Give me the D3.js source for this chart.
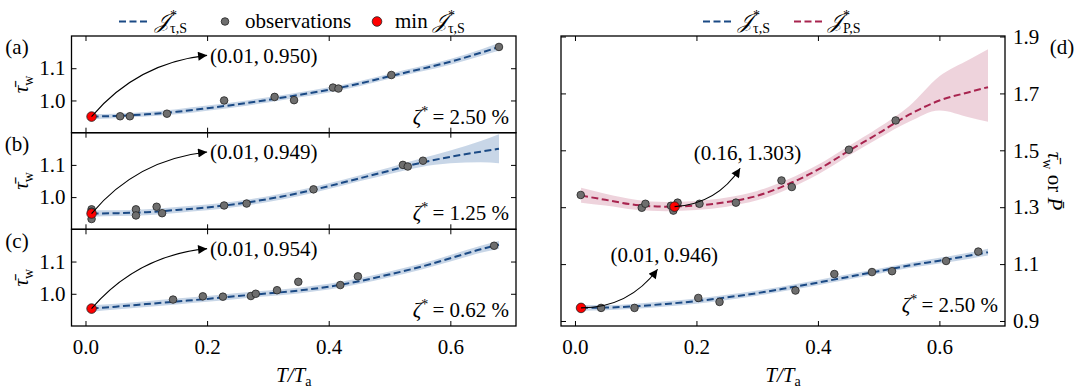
<!DOCTYPE html>
<meta charset="utf-8">
<style>
  body { margin: 0; background: #fff; }
  svg { font-family: "Liberation Serif", "DejaVu Serif", serif; }
</style>
<svg width="1079" height="389"></svg>
<script src="https://d3js.org/d3.v7.min.js"></script>
<script>

// ---- data ----
var gridX = [0.01, 0.05, 0.1, 0.15, 0.2, 0.25, 0.3, 0.35, 0.4, 0.45, 0.5, 0.55, 0.6, 0.65, 0.68];
var xTicks = [0.0, 0.2, 0.4, 0.6];
var leftYTicks = [1.0, 1.1];
var rightYTicks = [0.9, 1.1, 1.3, 1.5, 1.7, 1.9];

// (a) zeta* = 2.50 %
var aFit = [0.950, 0.952, 0.957, 0.965, 0.976, 0.988, 1.002, 1.017, 1.033, 1.052, 1.075, 1.097, 1.120, 1.148, 1.166];
var aLo  = [0.942, 0.945, 0.950, 0.957, 0.968, 0.980, 0.994, 1.009, 1.025, 1.044, 1.067, 1.089, 1.111, 1.138, 1.154];
var aHi  = [0.958, 0.959, 0.964, 0.973, 0.984, 0.996, 1.010, 1.025, 1.041, 1.060, 1.083, 1.105, 1.129, 1.158, 1.178];
var aObsX = [0.057, 0.073, 0.134, 0.228, 0.311, 0.343, 0.407, 0.416, 0.503, 0.680];
var aObsY = [0.951, 0.951, 0.959, 1.000, 1.011, 1.001, 1.040, 1.037, 1.079, 1.166];
var aMin = [0.01, 0.950];

// (b) zeta* = 1.25 %
var bFit = [0.949, 0.950, 0.953, 0.960, 0.968, 0.979, 0.994, 1.012, 1.034, 1.058, 1.082, 1.106, 1.125, 1.141, 1.150];
var bLo  = [0.939, 0.941, 0.944, 0.951, 0.959, 0.970, 0.985, 1.003, 1.025, 1.049, 1.072, 1.093, 1.105, 1.108, 1.105];
var bHi  = [0.959, 0.959, 0.962, 0.969, 0.977, 0.988, 1.003, 1.021, 1.043, 1.067, 1.092, 1.119, 1.145, 1.174, 1.195];
var bObsX = [0.01, 0.01, 0.01, 0.083, 0.083, 0.117, 0.126, 0.228, 0.265, 0.375, 0.522, 0.530, 0.555];
var bObsY = [0.962, 0.955, 0.932, 0.962, 0.943, 0.970, 0.950, 0.974, 0.980, 1.024, 1.100, 1.095, 1.113];
var bMin = [0.01, 0.949];

// (c) zeta* = 0.62 %
var cFit = [0.954, 0.960, 0.968, 0.976, 0.984, 0.993, 1.001, 1.010, 1.022, 1.039, 1.060, 1.083, 1.110, 1.138, 1.152];
var cLo  = [0.944, 0.951, 0.959, 0.967, 0.975, 0.984, 0.992, 1.001, 1.013, 1.030, 1.051, 1.074, 1.100, 1.127, 1.140];
var cHi  = [0.964, 0.969, 0.977, 0.985, 0.993, 1.002, 1.010, 1.019, 1.031, 1.048, 1.069, 1.092, 1.120, 1.149, 1.164];
var cObsX = [0.01, 0.144, 0.193, 0.226, 0.272, 0.280, 0.315, 0.350, 0.419, 0.448, 0.672];
var cObsY = [0.954, 0.982, 0.992, 0.991, 0.993, 1.000, 1.011, 1.037, 1.027, 1.054, 1.149];
var cMin = [0.01, 0.954];

// (d) tau and P surrogates
var dTauFit = [0.946, 0.947, 0.952, 0.960, 0.970, 0.983, 0.998, 1.016, 1.035, 1.055, 1.075, 1.095, 1.112, 1.130, 1.142];
var dTauLo  = [0.936, 0.938, 0.943, 0.951, 0.961, 0.974, 0.989, 1.007, 1.026, 1.046, 1.066, 1.086, 1.102, 1.119, 1.130];
var dTauHi  = [0.956, 0.956, 0.961, 0.969, 0.979, 0.992, 1.007, 1.025, 1.044, 1.064, 1.084, 1.104, 1.122, 1.141, 1.154];
var dTauObsX = [0.01, 0.043, 0.098, 0.203, 0.238, 0.363, 0.427, 0.489, 0.522, 0.611, 0.664];
var dTauObsY = [0.946, 0.946, 0.946, 0.981, 0.967, 1.007, 1.065, 1.072, 1.075, 1.111, 1.144];
var dTauMin = [0.01, 0.946];

var dPFit = [1.341, 1.326, 1.308, 1.302, 1.306, 1.318, 1.340, 1.380, 1.432, 1.497, 1.560, 1.625, 1.675, 1.705, 1.722];
var dPLo  = [1.316, 1.306, 1.291, 1.286, 1.290, 1.302, 1.324, 1.363, 1.415, 1.480, 1.542, 1.600, 1.640, 1.615, 1.600];
var dPHi  = [1.368, 1.347, 1.326, 1.318, 1.322, 1.334, 1.357, 1.397, 1.449, 1.514, 1.580, 1.655, 1.760, 1.820, 1.855];
var dPObsX = [0.0095, 0.110, 0.116, 0.158, 0.162, 0.169, 0.205, 0.265, 0.340, 0.357, 0.451, 0.528];
var dPObsY = [1.343, 1.298, 1.312, 1.305, 1.288, 1.316, 1.312, 1.316, 1.394, 1.371, 1.502, 1.605];
var dPMin = [0.164, 1.302];

// ---- styling ----
var blue = "#1b4a85", blueBand = "#4a78b0",
    red = "#a8244f", redBand = "#a8244f",
    obsFill = "#6e6e6e", minFill = "#ff0000";
var TAU = "\u03C4\u0304", PBAR = "P\u0304";

var svg = d3.select("svg");

var defs = svg.append("defs");
defs.append("marker")
    .attr("id", "head")
    .attr("viewBox", "0 0 10 10")
    .attr("refX", 10).attr("refY", 5)
    .attr("markerUnits", "userSpaceOnUse")
    .attr("markerWidth", 11).attr("markerHeight", 9)
    .attr("orient", "auto")
  .append("path")
    .attr("d", "M0,0L10,5L0,10z")
    .attr("fill", "#000");

var xDom = [-0.023, 0.708];
var leftX = d3.scaleLinear().domain(xDom).range([71.5, 516]);
var rightX = d3.scaleLinear().domain(xDom).range([561, 1005]);
var rows = [[36, 132.7], [132.7, 229.3], [229.3, 326]];
var fmt = d3.format(".1f");

function band(g, x, y, lo, hi, color, op) {
  var area = d3.area()
      .x(function(d, i) { return x(gridX[i]); })
      .y0(function(d, i) { return y(lo[i]); })
      .y1(function(d, i) { return y(hi[i]); })
      .curve(d3.curveMonotoneX);
  g.append("path").datum(lo).attr("d", area)
      .attr("fill", color).attr("fill-opacity", op);
}

function fitLine(g, x, y, fit, color) {
  var line = d3.line()
      .x(function(d, i) { return x(gridX[i]); })
      .y(function(d) { return y(d); })
      .curve(d3.curveMonotoneX);
  g.append("path").datum(fit).attr("d", line)
      .attr("fill", "none").attr("stroke", color)
      .attr("stroke-width", 2).attr("stroke-dasharray", "7,3.5");
}

function dots(g, x, y, xs, ys) {
  g.append("g").selectAll("circle").data(xs).join("circle")
      .attr("cx", function(d) { return x(d); })
      .attr("cy", function(d, i) { return y(ys[i]); })
      .attr("r", 3.8)
      .attr("fill", obsFill).attr("stroke", "#222").attr("stroke-width", 0.8);
}

function minDot(g, x, y, p) {
  g.append("circle").attr("cx", x(p[0])).attr("cy", y(p[1])).attr("r", 4.8)
      .attr("fill", minFill).attr("stroke", "#222").attr("stroke-width", 0.8);
}

// curved arrow, matplotlib arc3 style
function arrow(g, x, y, from, to, rad) {
  var x0 = x(from[0]), y0 = y(from[1]), x2 = x(to[0]), y2 = y(to[1]);
  var dx = x2 - x0, dy = y2 - y0;
  var cx = (x0 + x2) / 2 + rad * dy, cy = (y0 + y2) / 2 - rad * dx;
  var p = d3.path();
  p.moveTo(x0, y0);
  p.quadraticCurveTo(cx, cy, x2, y2);
  g.append("path").attr("d", p.toString())
      .attr("fill", "none").attr("stroke", "#000").attr("stroke-width", 1.1)
      .attr("marker-end", "url(#head)");
}

function zeta(g, xpos, ypos, val) {
  var t = g.append("text").attr("x", xpos).attr("y", ypos)
      .attr("text-anchor", "end").attr("font-size", 21);
  t.append("tspan").attr("font-style", "italic").text("ζ");
  t.append("tspan").attr("font-size", 14).attr("dy", -8).text("*");
  t.append("tspan").attr("dy", 8).text("\u2009= " + val + " %");
}

function tauLabel(t) {
  t.append("tspan").attr("font-style", "italic").text(TAU);
  t.append("tspan").attr("font-size", 14).attr("dy", 5).text("w");
}

function frameAxes(g, x, y, top, bottom, yTicks, opts) {
  g.append("g").attr("transform", "translate(0," + bottom + ")")
      .call(d3.axisBottom(x).tickValues(xTicks).tickSizeInner(-5).tickSizeOuter(0)
          .tickPadding(13).tickFormat(opts.xLabels ? fmt : ""));
  g.append("g").attr("transform", "translate(0," + top + ")")
      .call(d3.axisTop(x).tickValues(xTicks).tickSizeInner(-5).tickSizeOuter(0).tickFormat(""));
  g.append("g").attr("transform", "translate(" + x.range()[0] + ",0)")
      .call(d3.axisLeft(y).tickValues(yTicks).tickSizeInner(-5).tickSizeOuter(0)
          .tickPadding(6).tickFormat(opts.leftLabels ? fmt : ""));
  g.append("g").attr("transform", "translate(" + x.range()[1] + ",0)")
      .call(d3.axisRight(y).tickValues(yTicks).tickSizeInner(-5).tickSizeOuter(0)
          .tickPadding(8).tickFormat(opts.rightLabels ? fmt : ""));
  g.selectAll(".domain").remove();
  g.selectAll(".tick line").attr("stroke", "#000").attr("stroke-width", 1);
  g.selectAll(".tick text").attr("font-size", 21).attr("font-family", "Liberation Serif").attr("fill", "#000");
  g.append("rect")
      .attr("x", x.range()[0]).attr("y", top)
      .attr("width", x.range()[1] - x.range()[0]).attr("height", bottom - top)
      .attr("fill", "none").attr("stroke", "#000").attr("stroke-width", 1.3);
}

// ---- left column (a)-(c) ----
var leftPanels = [
  {tag: "(a)", fit: aFit, lo: aLo, hi: aHi, ox: aObsX, oy: aObsY, min: aMin, z: "2.50"},
  {tag: "(b)", fit: bFit, lo: bLo, hi: bHi, ox: bObsX, oy: bObsY, min: bMin, z: "1.25"},
  {tag: "(c)", fit: cFit, lo: cLo, hi: cHi, ox: cObsX, oy: cObsY, min: cMin, z: "0.62"}
];

leftPanels.forEach(function(p, k) {
  var top = rows[k][0], bottom = rows[k][1];
  var y = d3.scaleLinear().domain([0.9, 1.2]).range([bottom, top]);
  var g = svg.append("g");
  var clip = "clipL" + k;
  defs.append("clipPath").attr("id", clip).append("rect")
      .attr("x", 71.5).attr("y", top).attr("width", 444.5).attr("height", bottom - top);
  var inner = g.append("g").attr("clip-path", "url(#" + clip + ")");
  band(inner, leftX, y, p.lo, p.hi, blueBand, 0.3);
  fitLine(inner, leftX, y, p.fit, blue);
  dots(inner, leftX, y, p.ox, p.oy);
  minDot(inner, leftX, y, p.min);
  arrow(g, leftX, y, p.min, [0.2, 1.14], 0.2);
  g.append("text").attr("x", leftX(0.2) + 3).attr("y", y(1.14))
      .attr("dy", "0.35em").attr("font-size", 21)
      .text("(" + p.min[0].toFixed(2) + ",\u2009" + p.min[1].toFixed(3) + ")");
  zeta(g, 509, bottom - 9, p.z);
  frameAxes(g, leftX, y, top, bottom, leftYTicks,
      {xLabels: k === 2, leftLabels: true, rightLabels: false});
  g.append("text").attr("x", 17).attr("y", top + 11).attr("dy", "0.35em")
      .attr("text-anchor", "middle").attr("font-size", 21).text(p.tag);
  var yl = g.append("text")
      .attr("transform", "translate(28," + ((top + bottom) / 2) + ") rotate(-90)")
      .attr("text-anchor", "middle").attr("font-size", 21);
  tauLabel(yl);
});

// ---- right panel (d) ----
var yR = d3.scaleLinear().domain([0.8824, 1.9018]).range([326, 36]);
var gd = svg.append("g");
defs.append("clipPath").attr("id", "clipR").append("rect")
    .attr("x", 561).attr("y", 36).attr("width", 444).attr("height", 290);
var innerD = gd.append("g").attr("clip-path", "url(#clipR)");
band(innerD, rightX, yR, dPLo, dPHi, redBand, 0.2);
band(innerD, rightX, yR, dTauLo, dTauHi, blueBand, 0.3);
fitLine(innerD, rightX, yR, dPFit, red);
fitLine(innerD, rightX, yR, dTauFit, blue);
dots(innerD, rightX, yR, dPObsX, dPObsY);
dots(innerD, rightX, yR, dTauObsX, dTauObsY);
minDot(innerD, rightX, yR, dPMin);
minDot(innerD, rightX, yR, dTauMin);

arrow(gd, rightX, yR, dTauMin, [0.136, 1.082], -0.25);
gd.append("text").attr("x", rightX(0.147)).attr("y", yR(1.133)).attr("dy", "0.35em")
    .attr("text-anchor", "middle").attr("font-size", 21).text("(0.01,\u20090.946)");
arrow(gd, rightX, yR, dPMin, [0.272, 1.437], -0.25);
gd.append("text").attr("x", rightX(0.284)).attr("y", yR(1.49)).attr("dy", "0.35em")
    .attr("text-anchor", "middle").attr("font-size", 21).text("(0.16,\u20091.303)");

zeta(gd, 998, 312, "2.50");
frameAxes(gd, rightX, yR, 36, 326, rightYTicks,
    {xLabels: true, leftLabels: false, rightLabels: true});
gd.append("text").attr("x", 1062).attr("y", 47).attr("dy", "0.35em")
    .attr("text-anchor", "middle").attr("font-size", 21).text("(d)");
var yr = gd.append("text")
    .attr("transform", "translate(1048,181) rotate(90)")
    .attr("text-anchor", "middle").attr("font-size", 21);
tauLabel(yr);
yr.append("tspan").attr("dy", -5).text(" or ");
yr.append("tspan").attr("font-style", "italic").text(PBAR);

// ---- x titles ----
[leftX, rightX].forEach(function(x) {
  var t = svg.append("text")
      .attr("x", (x.range()[0] + x.range()[1]) / 2).attr("y", 382)
      .attr("text-anchor", "middle").attr("font-size", 21);
  t.append("tspan").attr("font-style", "italic").text("T/T");
  t.append("tspan").attr("font-size", 14).attr("dy", 4).text("a");
});

// ---- legends ----
function jLabel(t, sub) {
  t.append("tspan").attr("font-style", "italic").text("\uD835\uDCA5");
  t.append("tspan").attr("font-size", 14).attr("dy", -8).attr("dx", 1).text("*");
  t.append("tspan").attr("font-size", 14).attr("dy", 13).attr("dx", -7).text(sub);
}
function legDash(x0, x1, color) {
  svg.append("line").attr("x1", x0).attr("x2", x1).attr("y1", 21.5).attr("y2", 21.5)
      .attr("stroke", color).attr("stroke-width", 2).attr("stroke-dasharray", "7,3.5");
}
function legDot(cx, fill, r) {
  svg.append("circle").attr("cx", cx).attr("cy", 21.5).attr("r", r)
      .attr("fill", fill).attr("stroke", "#222").attr("stroke-width", 0.8);
}
function legText(x) {
  return svg.append("text").attr("x", x).attr("y", 21.5).attr("dy", "0.3em").attr("font-size", 21);
}

legDash(119, 149, blue);
jLabel(legText(155), "τ,S");
legDot(225, obsFill, 3.8);
legText(245).text("observations");
legDot(377, minFill, 4.8);
var mt = legText(395);
mt.append("tspan").text("min ");
jLabel(mt, "τ,S");

legDash(703, 732, blue);
jLabel(legText(738), "τ,S");
legDash(794, 822, red);
jLabel(legText(828), "P,S");

</script>
